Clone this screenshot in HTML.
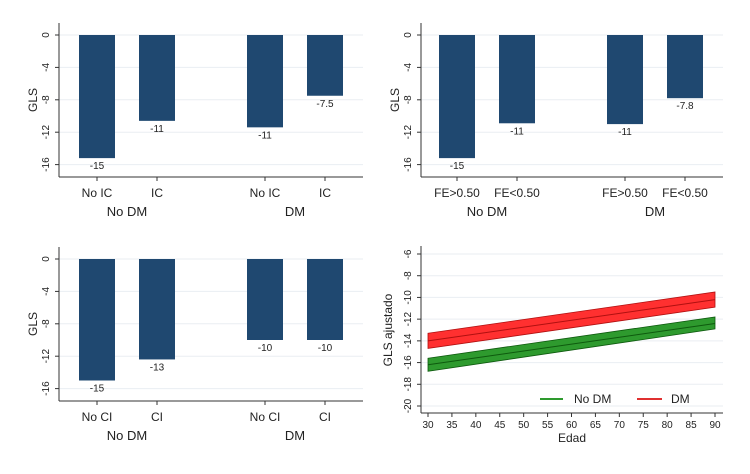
<!DOCTYPE html>
<html><head><meta charset="utf-8"><style>
body{margin:0;background:#fff;}
svg text{font-family:"Liberation Sans",sans-serif;fill:#222;}
</style></head><body>
<svg id="c" width="750" height="469" viewBox="0 0 750 469" xmlns="http://www.w3.org/2000/svg"></svg>
<script>
const barCats1=["No IC","IC","No IC","IC"];
const barVals1=[-15.2,-10.6,-11.4,-7.5];
const barLbls1=["-15","-11","-11","-7.5"];
const barCats2=["FE>0.50","FE<0.50","FE>0.50","FE<0.50"];
const barVals2=[-15.2,-10.9,-11.0,-7.8];
const barLbls2=["-15","-11","-11","-7.8"];
const barCats3=["No CI","CI","No CI","CI"];
const barVals3=[-15.0,-12.4,-10.0,-10.0];
const barLbls3=["-15","-13","-10","-10"];
const groupLabels=["No DM","DM"];
const barTicks=[0,-4,-8,-12,-16];
const ageX=[30,90];
const dmFit=[-14.0,-10.2];
const dmLo=[-14.7,-10.9];
const dmHi=[-13.3,-9.5];
const nodmFit=[-16.2,-12.4];
const nodmLo=[-16.8,-12.9];
const nodmHi=[-15.6,-11.8];
const lineYTicks=[-6,-8,-10,-12,-14,-16,-18,-20];
const lineXTicks=[30,35,40,45,50,55,60,65,70,75,80,85,90];

const svg=document.getElementById('c');
const NS="http://www.w3.org/2000/svg";
function mk(tag,attrs,parent,name){const e=document.createElementNS(NS,tag);for(const k in attrs)e.setAttribute(k,attrs[k]);


(parent||svg).appendChild(e);return e;}

function barPanel(ox,oy,cats,vals,lbls,id,axisX){
  const g=mk('g',{transform:`translate(${ox},${oy})`},svg,id);
  const y=v=>35+(-v)*8.1;
  const xEnd=363;
  barTicks.forEach(t=>{
    mk('line',{x1:axisX,x2:xEnd,y1:y(t),y2:y(t),stroke:'#eaeef2','stroke-width':1},g,'gridline');
    mk('line',{x1:axisX-4,x2:axisX,y1:y(t),y2:y(t),stroke:'#333'},g,'y-tick');
    const tx=mk('text',{x:0,y:0,'font-size':10,'text-anchor':'middle',transform:`translate(${axisX-10},${y(t)}) rotate(-90)`},g,'y-tick-label');tx.textContent=t;
  });
  mk('line',{x1:axisX,x2:axisX,y1:23,y2:177,stroke:'#333'},g,'y-axis');
  mk('line',{x1:axisX,x2:xEnd,y1:177,y2:177,stroke:'#333'},g,'x-axis');
  const yl=mk('text',{'font-size':12,'text-anchor':'middle',transform:`translate(${axisX-22},100) rotate(-90)`},g,'y-axis-title');yl.textContent='GLS';
  const centers=[97,157,265,325];
  vals.forEach((v,i)=>{
    const cx=centers[i];
    mk('rect',{x:cx-18,y:y(0),width:36,height:y(v)-y(0),fill:'#1f4870'},g,'bar-'+i);
    const l=mk('text',{x:cx,y:y(v)+11,'font-size':10,'text-anchor':'middle'},g,'bar-value-label');l.textContent=lbls[i];
    mk('line',{x1:cx,x2:cx,y1:177,y2:181,stroke:'#333'},g,'x-tick');
    const c=mk('text',{x:cx,y:197,'font-size':12,'text-anchor':'middle'},g,'x-category-label');c.textContent=cats[i];
  });
  [127,295].forEach((gx,i)=>{const t=mk('text',{x:gx,y:216,'font-size':13,'text-anchor':'middle'},g,'group-label');t.textContent=groupLabels[i];});
}
barPanel(0,0,barCats1,barVals1,barLbls1,'panel-ic',59);
barPanel(360,0,barCats2,barVals2,barLbls2,'panel-fe',61);
barPanel(0,224,barCats3,barVals3,barLbls3,'panel-ci',59);

const lg=mk('g',{},svg,'panel-age');
const X=a=>428+(a-30)*(287/60);
const Y=v=>254+(-6-v)*(152/14);
lineYTicks.forEach(t=>{
  mk('line',{x1:421,x2:723,y1:Y(t),y2:Y(t),stroke:'#eaeef2'},lg,'gridline');
  mk('line',{x1:417,x2:421,y1:Y(t),y2:Y(t),stroke:'#333'},lg,'y-tick');
  const tx=mk('text',{'font-size':10,'text-anchor':'middle',transform:`translate(411,${Y(t)}) rotate(-90)`},lg,'y-tick-label');tx.textContent=t;
});
mk('line',{x1:421,x2:421,y1:246,y2:413,stroke:'#333'},lg,'y-axis');
mk('line',{x1:421,x2:723,y1:413,y2:413,stroke:'#333'},lg,'x-axis');
lineXTicks.forEach(t=>{
  mk('line',{x1:X(t),x2:X(t),y1:413,y2:417,stroke:'#333'},lg,'x-tick');
  const tx=mk('text',{x:X(t),y:428,'font-size':10,'text-anchor':'middle'},lg,'x-tick-label');tx.textContent=t;
});
const yt=mk('text',{'font-size':12,'text-anchor':'middle',transform:`translate(392,330) rotate(-90)`},lg,'y-axis-title');yt.textContent='GLS ajustado';
const xt=mk('text',{x:572,y:442,'font-size':12,'text-anchor':'middle'},lg,'x-axis-title');xt.textContent='Edad';
function band(lo,hi,fit,fill,stroke,name){
  const p=`M${X(ageX[0])},${Y(hi[0])} L${X(ageX[1])},${Y(hi[1])} L${X(ageX[1])},${Y(lo[1])} L${X(ageX[0])},${Y(lo[0])} Z`;
  mk('path',{d:p,fill:fill,stroke:stroke,'stroke-width':0.8},lg,name+'-ci-band');
  mk('line',{x1:X(ageX[0]),y1:Y(fit[0]),x2:X(ageX[1]),y2:Y(fit[1]),stroke:stroke,'stroke-width':1},lg,name+'-fit-line');
}
band(dmLo,dmHi,dmFit,'#ff3030','#b01010','dm');
band(nodmLo,nodmHi,nodmFit,'#2e9a2e','#0e5a0e','no-dm');
mk('line',{x1:540,x2:563,y1:399,y2:399,stroke:'#2e9a2e','stroke-width':2},lg,'legend-swatch-no-dm');
const l1=mk('text',{x:574,y:403,'font-size':12},lg,'legend-label-no-dm');l1.textContent='No DM';
mk('line',{x1:637,x2:662,y1:399,y2:399,stroke:'#e03030','stroke-width':2},lg,'legend-swatch-dm');
const l2=mk('text',{x:671,y:403,'font-size':12},lg,'legend-label-dm');l2.textContent='DM';
</script>
</body></html>
